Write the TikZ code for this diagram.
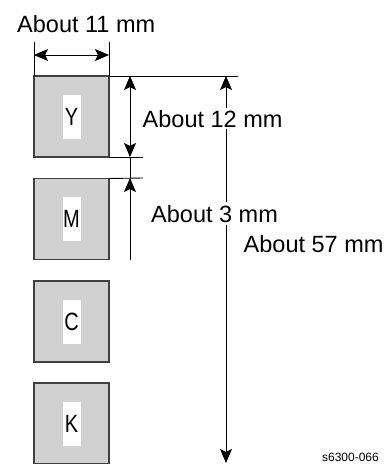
\documentclass[tikz,border=0pt]{standalone}
\usepackage{fontspec}
\setmainfont{Liberation Sans}
\usetikzlibrary{arrows.meta}
\begin{document}
\begin{tikzpicture}[x=1pt,y=-1pt,
  sq/.style={draw=black!75, line width=1.2pt, fill=black!18, minimum width=75pt, minimum height=81pt, inner sep=0pt, outer sep=0pt},
  lab/.style={fill=white, minimum width=18pt, minimum height=44pt, inner sep=0pt, font=\fontsize{25}{28}\selectfont},
  ln/.style={line width=0.9pt, black},
  tip/.style={line width=0.9pt, black, -{Stealth[length=14pt,width=12pt,inset=3pt]}},
  dtip/.style={line width=0.9pt, black, {Stealth[length=14pt,width=12pt,inset=3pt]}-{Stealth[length=14pt,width=12pt,inset=3pt]}},
  dimtxt/.style={fill=white, inner sep=1.5pt, anchor=base west, font=\fontsize{23.5}{27}\selectfont}
]
\useasboundingbox (0,0) rectangle (386,464);
% squares
\node[sq] (Y) at (71.5,116.5) {};
\node[sq] (M) at (71.5,219) {};
\node[sq] (C) at (71.5,321.5) {};
\node[sq] (K) at (71.5,423.5) {};
\node[lab] (lY) at (Y) {\scalebox{0.8}[1]{Y}};
\node[lab] (lM) at (M) {\scalebox{0.8}[1]{M}};
\node[lab] (lC) at (C) {\scalebox{0.8}[1]{C}};
\node[lab] (lK) at (K) {\scalebox{0.8}[1]{K}};
% width dimension
\coordinate (wl) at (Y.north west |- 0,42);
\coordinate (wr) at (Y.north east |- 0,42);
\draw[ln] (Y.north west) -- (wl);
\draw[ln] (Y.north east) -- (wr);
\coordinate (wa) at (Y.north west |- 0,55);
\coordinate (wb) at (Y.north east |- 0,55);
\draw[dtip] (wa) -- (wb);
\node[font=\fontsize{23.5}{27}\selectfont, anchor=base west, inner sep=0pt] (t11) at (17,32) {About 11 mm};
% extension lines
\coordinate (topR) at (238,76);
\draw[ln] (Y.north east) -- (topR);
\coordinate (yb) at (143,157);
\coordinate (mt) at (143,178);
\draw[ln] (Y.south east) -- (yb);
\draw[ln] (M.north east) -- (mt);
% 12 mm arrow
\coordinate (a12t) at (130,76);
\coordinate (a12b) at (130,157);
\draw[dtip] (a12t) -- (a12b);
\coordinate (a3t) at (130,178);
\coordinate (a3b) at (130,260);
\draw[ln] (a12b) -- (a3t);
\draw[tip] (a3b) -- (a3t);
% 57 mm arrow
\coordinate (a57t) at (226,76);
\coordinate (a57b) at (226,463);
\draw[dtip] (a57t) -- (a57b);
% texts
\node[dimtxt] (t12) at (141,127) {About 12 mm};
\node[dimtxt, inner sep=3pt] (t3) at (148,222) {About 3 mm};
\node[dimtxt] (t57) at (242,252) {About 57 mm};
\node[anchor=base east, inner sep=0pt, font=\fontsize{12}{14}\selectfont] (code) at (379,461) {s6300-066};
\end{tikzpicture}
\end{document}
